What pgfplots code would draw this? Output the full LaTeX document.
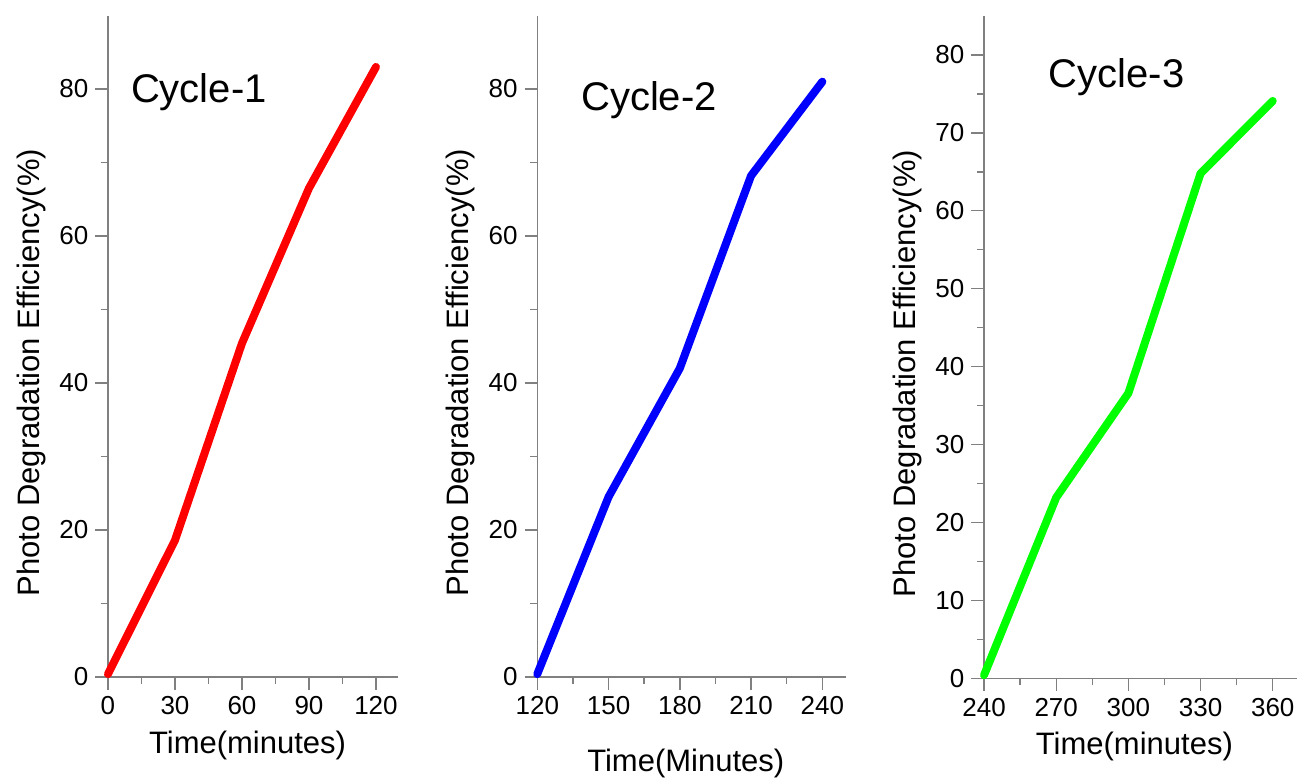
\documentclass[border=0pt]{standalone}
\usepackage{fontspec}
\setmainfont{Liberation Sans}
\usepackage{pgfplots}
\pgfplotsset{compat=1.18}

\pgfplotsset{
  cyc/.style={
    scale only axis,
    anchor=south west,
    axis x line=bottom, axis y line=left,
    axis line style={draw=gray, line width=0.7pt, -},
    tick style={draw=gray, line width=0.7pt},
    tick align=outside,
    major tick length=6.3pt, minor tick length=3.5pt,
    minor x tick num=1,
    ymin=0,
    clip=false,
    /pgf/number format/assume math mode=true,
    ticklabel style={font=\fontsize{13}{15}\selectfont},
    label style={font=\fontsize{15.5}{18}\selectfont},
    xlabel style={yshift=-1pt},
    ylabel style={at={(ticklabel cs:0.46)}},
  },
  cline/.style={line width=4pt, line join=round, line cap=round},
}

\begin{document}
\begin{tikzpicture}
\path[use as bounding box] (0,0) rectangle (648.5pt,389pt);

% Cycle-1
\begin{axis}[cyc, at={(48.4pt,50.5pt)}, width=150.75pt, height=330.75pt,
  xmin=-5, xmax=130, ymax=90,
  axis y line shift=-5.58pt,
  xtick={0,30,60,90,120}, ytick={0,20,40,60,80}, minor y tick num=1,
  xlabel={Time(minutes)}, ylabel={Photo Degradation Efficiency(\%)}]
\addplot[cline, red] coordinates {(0,0.4) (30,18.6) (60,45.4) (90,66.5) (120,83)};
\node[font=\fontsize{20}{24}\selectfont] at (axis cs:40.7,79.6) {Cycle-1};
\end{axis}

% Cycle-2
\begin{axis}[cyc, at={(262.7pt,50.5pt)}, width=160.35pt, height=330.75pt,
  xmin=115, xmax=250, ymax=90,
  axis y line shift=-5.94pt,
  xtick={120,150,180,210,240}, ytick={0,20,40,60,80}, minor y tick num=1,
  xlabel={Time(Minutes)}, ylabel={Photo Degradation Efficiency(\%)},
  xlabel style={yshift=-9pt}]
\addplot[cline, blue] coordinates {(120,0.4) (150,24.5) (180,42) (210,68.2) (240,81)};
\node[font=\fontsize{20}{24}\selectfont] at (axis cs:167,78.5) {Cycle-2};
\end{axis}

% Cycle-3
\begin{axis}[cyc, at={(486pt,49.85pt)}, width=162.4pt, height=331.15pt,
  xmin=235, xmax=370, ymax=85,
  axis y line shift=-6.01pt,
  xtick={240,270,300,330,360}, ytick={0,10,...,80}, minor y tick num=1,
  xlabel={Time(minutes)}, ylabel={Photo Degradation Efficiency(\%)}]
\addplot[cline, green] coordinates {(240,0.4) (270,23.2) (300,36.6) (330,64.8) (360,74.1)};
\node[font=\fontsize{20}{24}\selectfont] at (axis cs:295.1,77.2) {Cycle-3};
\end{axis}
\end{tikzpicture}
\end{document}
